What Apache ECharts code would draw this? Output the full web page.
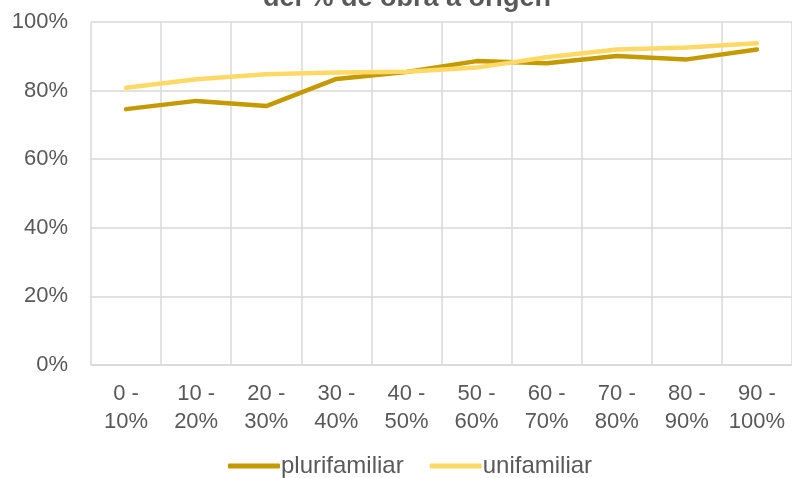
<!DOCTYPE html>
<html>
<head>
<meta charset="utf-8">
<script src="https://cdn.jsdelivr.net/npm/echarts@6/dist/echarts.min.js"></script>
<style>
  html, body { margin: 0; padding: 0; background: #fff; }
  #chart { width: 792px; height: 478px; }
</style>
</head>
<body>
<div id="chart"></div>
<script>
// Tramos del % de obra a origen
const categories = ['0 -\n10%', '10 -\n20%', '20 -\n30%', '30 -\n40%', '40 -\n50%',
                    '50 -\n60%', '60 -\n70%', '70 -\n80%', '80 -\n90%', '90 -\n100%'];

// Porcentajes por tipología
const plurifamiliar = [74.6, 77.0, 75.5, 83.4, 85.4, 88.6, 88.0, 90.1, 89.1, 92.0];
const unifamiliar   = [80.8, 83.3, 84.8, 85.3, 85.5, 86.7, 89.7, 92.0, 92.6, 93.8];

const titleText = 'del % de obra a origen';

const FONT = '"Liberation Sans", Arial, sans-serif';
const TEXT = '#595959';
const GRID = '#D9D9D9';

const chart = echarts.init(document.getElementById('chart'), null, { renderer: 'canvas' });

chart.setOption({
  animation: false,
  backgroundColor: '#ffffff',
  graphic: [{
    type: 'text',
    x: 407,
    y: -1.5,
    style: {
      text: titleText,
      fill: TEXT,
      font: 'bold 27px ' + FONT,
      textAlign: 'center',
      textVerticalAlign: 'middle'
    }
  }],
  grid: { left: 91, right: -1, top: 22, bottom: 113, containLabel: false },
  legend: {
    left: 228,
    top: 454,
    padding: 0,
    itemWidth: 52,
    itemHeight: 5,
    itemGap: 26,
    icon: 'roundRect',
    textStyle: { color: TEXT, fontSize: 24, fontFamily: FONT, padding: [0, 0, 0, -4] },
    data: ['plurifamiliar', 'unifamiliar']
  },
  xAxis: {
    type: 'category',
    data: categories,
    boundaryGap: true,
    axisLine: { show: true, lineStyle: { color: GRID, width: 1.5 } },
    axisTick: { show: false },
    splitLine: { show: true, lineStyle: { color: GRID, width: 1.5 } },
    axisLabel: {
      color: TEXT, fontSize: 22, fontFamily: FONT, lineHeight: 28, margin: 15, interval: 0
    }
  },
  yAxis: {
    type: 'value',
    min: 0,
    max: 100,
    interval: 20,
    axisLine: { show: false },
    axisTick: { show: false },
    splitLine: { show: true, lineStyle: { color: GRID, width: 1.5 } },
    axisLabel: {
      color: TEXT, fontSize: 22, fontFamily: FONT, margin: 23, formatter: '{value}%'
    }
  },
  series: [
    {
      name: 'plurifamiliar',
      type: 'line',
      data: plurifamiliar,
      symbol: 'none',
      itemStyle: { color: '#C49A00' },
      lineStyle: { color: '#C49A00', width: 4.5, cap: 'round', join: 'round' }
    },
    {
      name: 'unifamiliar',
      type: 'line',
      data: unifamiliar,
      symbol: 'none',
      itemStyle: { color: '#FFD966' },
      lineStyle: { color: '#FFD966', width: 4.5, cap: 'round', join: 'round' }
    }
  ]
});
</script>
</body>
</html>
